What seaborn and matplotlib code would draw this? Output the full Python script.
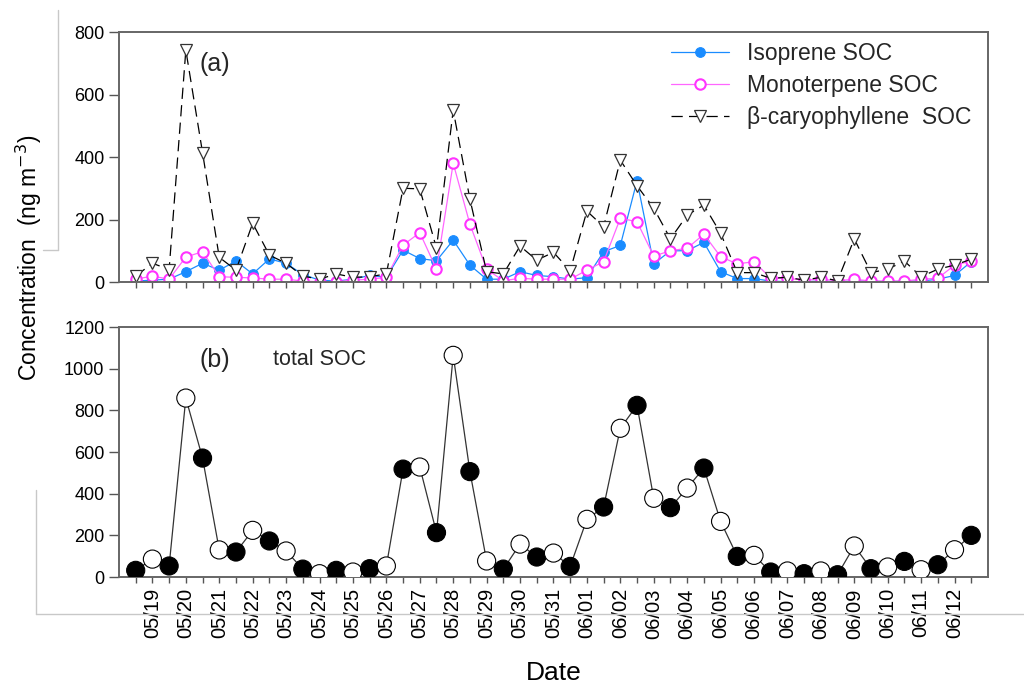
import numpy as np
import pandas as pd
import seaborn as sns
import matplotlib.pyplot as plt
import matplotlib.dates as mdates
from matplotlib.lines import Line2D

sns.set_theme(style="ticks")
plt.rcParams["font.family"] = ["Liberation Sans", "DejaVu Sans"]

# sampling times, twice a day (05/18 noon -> 06/12 noon)
time = pd.date_range("2013-05-18 12:00", "2013-06-12 12:00", freq="12h")
day_ticks = pd.date_range("2013-05-19", "2013-06-12", freq="D")

isoprene = [3, 6, 9, 33, 60, 38, 67, 26, 74, 60,
            24, 6, 3, 9, 21, 15, 102, 75, 68, 134,
            54, 9, 9, 33, 21, 17, 9, 14, 97, 117,
            324, 58, 100, 100, 127, 33, 11, 11, 3, 1,
            1, 3, 1, 3, 3, 1, 3, 3, 9, 21, 65]
monoterpene = [9, 19, 9, 80, 97, 17, 15, 13, 9, 9,
               3, 1, 1, 6, 9, 15, 118, 158, 41, 380,
               185, 41, 4, 12, 9, 9, 9, 38, 65, 204,
               193, 83, 100, 108, 153, 81, 58, 65, 12, 12,
               6, 9, 4, 9, 3, 3, 3, 9, 12, 54, 67]
caryophyllene = [19, 60, 40, 742, 414, 79, 38, 188, 86, 60,
                 19, 9, 26, 15, 17, 26, 300, 298, 108, 550,
                 265, 33, 26, 115, 70, 95, 36, 227, 177, 390,
                 308, 236, 138, 214, 246, 156, 30, 30, 12, 15,
                 6, 15, 4, 138, 30, 41, 67, 17, 41, 54, 73]
total = [32, 86, 53, 859, 571, 130, 120, 224, 173, 125,
         38, 16, 32, 24, 40, 53, 518, 528, 213, 1064,
         506, 77, 38, 158, 96, 115, 51, 277, 336, 714,
         824, 378, 333, 427, 523, 267, 99, 104, 24, 29,
         16, 29, 11, 149, 40, 48, 75, 35, 59, 131, 200]

df = pd.DataFrame({"time": time, "isoprene": isoprene, "monoterpene": monoterpene,
                   "caryophyllene": caryophyllene, "total": total})
df["filled"] = df.time.dt.hour == 12

fig, ax = plt.subplots(2, 1, figsize=(10.24, 6.84), dpi=100, sharex=True)
fig.subplots_adjust(left=0.1162, right=0.9648, top=0.9532, bottom=0.1564, hspace=0.18)

#%% (a) individual SOC
sns.lineplot(ax=ax[0], data=df, x="time", y="isoprene", color="#1a8cff", lw=0.9,
             marker="o", markersize=7, markeredgecolor="#1a8cff", label="Isoprene SOC")
sns.lineplot(ax=ax[0], data=df, x="time", y="monoterpene", color="#ff66ff", lw=0.9,
             marker="o", markersize=7.5, markerfacecolor="white", markeredgecolor="#ff33ff",
             markeredgewidth=1.5, label="Monoterpene SOC")
sns.lineplot(ax=ax[0], data=df, x="time", y="caryophyllene", color="black", lw=0.9,
             linestyle=(0, (9, 5)), marker="v", markersize=8, markerfacecolor="white",
             markeredgecolor="#333333", markeredgewidth=0.9, label="β-caryophyllene  SOC")
ax[0].set_ylim(0, 800)
ax[0].set_yticks(range(0, 801, 200))
ax[0].set(xlabel="", ylabel="")
ax[0].legend(loc="upper left", bbox_to_anchor=(0.625, 0.995), frameon=False, fontsize=16.5,
             handlelength=2.5, labelspacing=0.38, borderaxespad=0)
ax[0].text(0.093, 0.845, "(a)", transform=ax[0].transAxes, fontsize=18)

#%% (b) total SOC
sns.lineplot(ax=ax[1], data=df, x="time", y="total", color="#333333", lw=0.9)
sns.scatterplot(ax=ax[1], data=df, x="time", y="total", hue="filled",
                palette={True: "black", False: "white"}, edgecolor="black",
                s=170, linewidth=0.8, legend=False, zorder=3)
ax[1].set_ylim(0, 1200)
ax[1].set_yticks(range(0, 1201, 200))
ax[1].set_ylabel("")
ax[1].set_xlabel("Date", fontsize=19, labelpad=16, color="black")
ax[1].text(0.093, 0.84, "(b)", transform=ax[1].transAxes, fontsize=18)
ax[1].text(0.177, 0.85, "total SOC", transform=ax[1].transAxes, fontsize=15.5)

ax[1].set_xlim(pd.to_datetime("2013-05-18 00:00"), pd.to_datetime("2013-06-13 00:00"))
ax[1].set_xticks(day_ticks)
ax[1].xaxis.set_minor_locator(mdates.HourLocator(byhour=[12]))
ax[1].xaxis.set_major_formatter(mdates.DateFormatter("%m/%d"))
for lab in ax[1].get_xticklabels():
    lab.set_rotation(90)
    lab.set_fontsize(14.5)

for a in ax:
    for sp in a.spines.values():
        sp.set_color("#666666")
        sp.set_linewidth(1.4)
    a.tick_params(axis="x", which="both", direction="out", length=4.5, width=1,
                  color="#555555", labelcolor="black")
    a.tick_params(axis="y", direction="out", length=7, width=1, color="#555555",
                  labelsize=13, labelcolor="black")
ax[0].tick_params(axis="x", which="both", labelbottom=False)

fig.text(0.028, 1 - 258 / 684, "Concentration  (ng m$^{-3}$)", rotation=90,
         ha="center", va="center", fontsize=16.5, color="black")

# faint frame lines present in the original picture
for xs, ys in [([58, 58], [10, 250]), ([43, 58], [250, 250]),
               ([36, 36], [490, 614]), ([36, 1024], [614, 614])]:
    fig.add_artist(Line2D([x / 1024 for x in xs], [1 - y / 684 for y in ys],
                          transform=fig.transFigure, color="#c8c8c8", lw=1))

fig.savefig("out.png", dpi=100)
